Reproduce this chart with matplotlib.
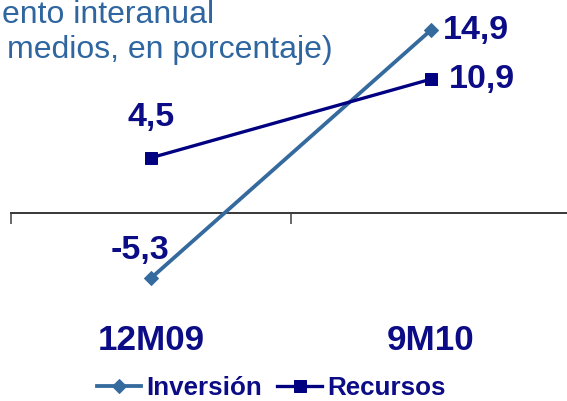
import matplotlib.pyplot as plt

plt.rcParams['font.family'] = ['Liberation Sans', 'DejaVu Sans']

categories = ['12M09', '9M10']
inversion = [-5.3, 14.9]
recursos = [4.5, 10.9]
inversion_labels = ['-5,3', '14,9']
recursos_labels = ['4,5', '10,9']

NAVY = '#000080'
STEEL = '#356A9E'
LABEL = '#0C0C86'

fig = plt.figure(figsize=(567 / 72, 401 / 72), dpi=72)
# axes placed in pixel terms: left edge at x=11, top 10px, bottom 300px
ax = fig.add_axes([11 / 567, 101 / 401, 560 / 567, 290 / 401])
ax.set_xlim(-0.5, 1.5)
ax.set_ylim(-7.08, 16.53)

x = range(len(categories))
ax.plot(x, inversion, color=STEEL, lw=3.8, marker='D', ms=9.5, label='Inversión', zorder=3)
ax.plot(x, recursos, color=NAVY, lw=3.3, marker='s', ms=12, label='Recursos', zorder=3)

# horizontal axis at zero with downward ticks between categories
for s in ['left', 'right', 'top']:
    ax.spines[s].set_visible(False)
ax.spines['bottom'].set_position(('data', 0))
ax.spines['bottom'].set_color('#3c3c3c')
ax.spines['bottom'].set_linewidth(2)
ax.set_yticks([])
ax.set_xticks([-0.5, 0.5, 1.5])
ax.set_xticklabels([])
ax.tick_params(axis='x', direction='out', length=11, width=1.5, color='#3c3c3c')

for i, c in enumerate(categories):
    ax.text(i, -0.138, c, transform=ax.get_xaxis_transform(), ha='center', va='center',
            fontsize=35, fontweight='bold', color=LABEL)

ax.annotate(inversion_labels[0], (0, inversion[0]), xytext=(-11, 28), textcoords='offset points',
            ha='center', va='center', fontsize=34, fontweight='bold', color=LABEL)
ax.annotate(inversion_labels[1], (1, inversion[1]), xytext=(12, 0), textcoords='offset points',
            ha='left', va='center', fontsize=34, fontweight='bold', color=LABEL)
ax.annotate(recursos_labels[0], (0, recursos[0]), xytext=(0, 40), textcoords='offset points',
            ha='center', va='center', fontsize=34, fontweight='bold', color=LABEL)
ax.annotate(recursos_labels[1], (1, recursos[1]), xytext=(18, 0), textcoords='offset points',
            ha='left', va='center', fontsize=34, fontweight='bold', color=LABEL)

# title is cropped at the left edge in the source; keep the visible part
fig.text(2 / 567, 1 - 15 / 401, 'ento interanual', ha='left', va='center',
         fontsize=32, color='#2F66A0')
fig.text(333 / 567, 1 - 50 / 401, 'medios, en porcentaje)', ha='right', va='center',
         fontsize=32, color='#2F66A0')

leg = fig.legend(loc='center', bbox_to_anchor=(271 / 567, 1 - 388 / 401), ncol=2, frameon=False,
                 handlelength=1.7, handletextpad=0.2, columnspacing=0.6,
                 prop={'size': 26, 'weight': 'bold'})
for t in leg.get_texts():
    t.set_color(LABEL)

fig.savefig('out.png', dpi=72)
